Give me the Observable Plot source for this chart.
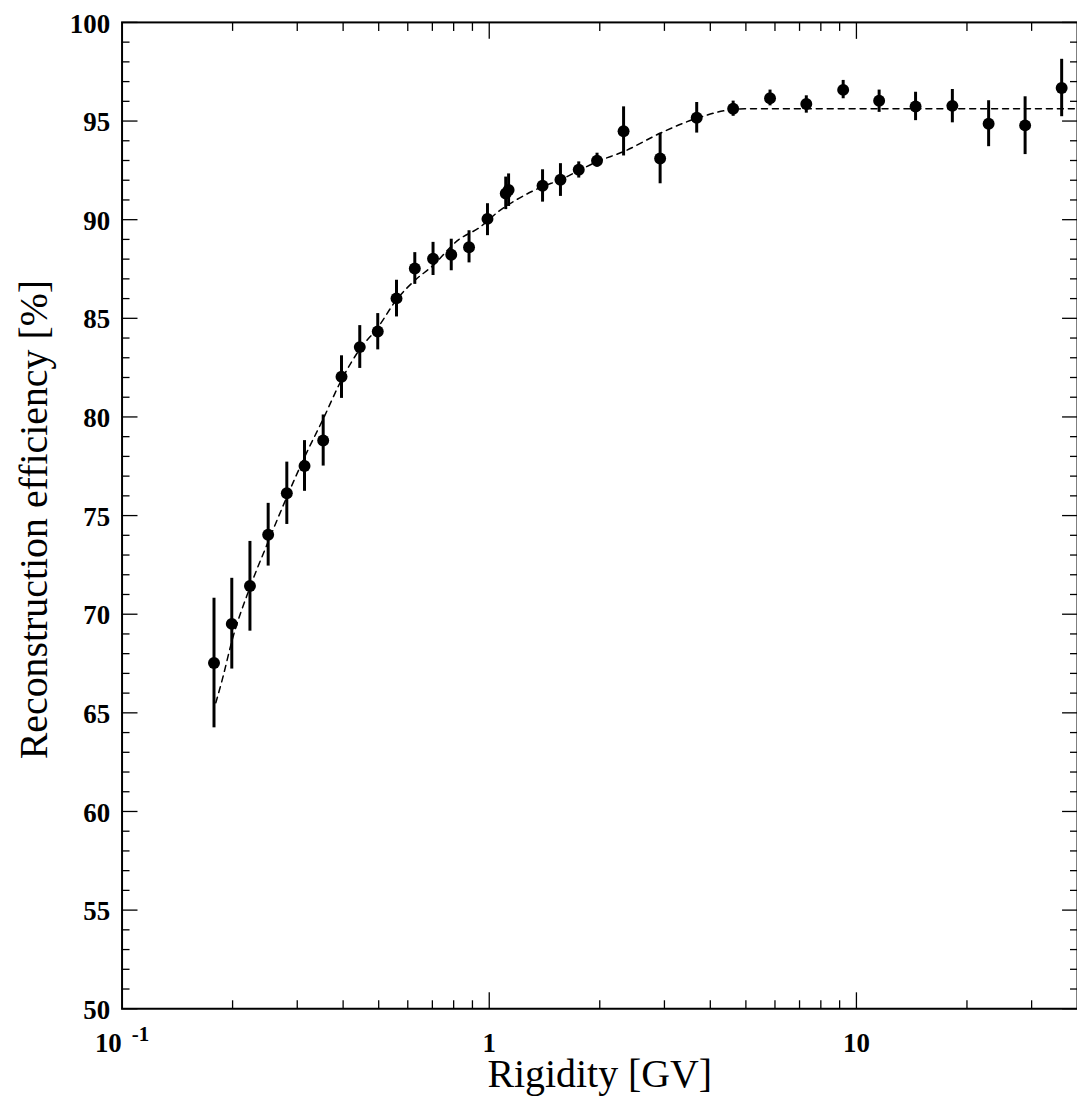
<!DOCTYPE html>
<html><head><meta charset="utf-8">
<script src="https://cdn.jsdelivr.net/npm/d3@7"></script>
<script src="https://cdn.jsdelivr.net/npm/@observablehq/plot@0.6"></script>
<style>
html,body{margin:0;padding:0;background:#fff;overflow:hidden}
#wrap{width:1077px;height:1099px;overflow:hidden;position:relative}
</style></head><body><div id="wrap"></div>
<script>
// Data points: rigidity [GV], efficiency [%], error bar bounds
const rigidity = [0.178,0.199,0.223,0.250,0.281,0.314,0.353,0.396,0.444,0.497,0.559,0.627,0.703,0.788,0.881,0.989,1.109,1.129,1.397,1.563,1.753,1.966,2.322,2.920,3.673,4.616,5.817,7.303,9.203,11.53,14.49,18.25,22.91,28.80,36.22];
const efficiency = [67.53,69.51,71.43,74.03,76.13,77.51,78.81,82.04,83.54,84.33,86.01,87.53,88.02,88.22,88.60,90.04,91.33,91.50,91.72,92.02,92.53,92.99,94.48,93.10,95.17,95.62,96.16,95.86,96.58,96.03,95.74,95.77,94.86,94.78,96.68];
const errHigh = [70.81,71.82,73.69,75.62,77.71,78.80,80.10,83.10,84.63,85.24,86.93,88.33,88.85,89.01,89.44,90.81,92.16,92.32,92.53,92.84,92.93,93.37,95.72,94.38,95.94,96.01,96.57,96.28,97.06,96.57,96.46,96.60,96.03,96.23,98.13];
const errLow = [64.24,67.22,69.14,72.44,74.55,76.23,77.51,80.94,82.46,83.40,85.07,86.72,87.17,87.41,87.81,89.19,90.51,90.67,90.89,91.18,92.11,92.66,93.23,91.82,94.39,95.24,95.77,95.40,96.13,95.44,95.02,94.91,93.70,93.30,95.22];

// Fit curve (dashed)
const fitRigidity = [0.180,0.188,0.199,0.223,0.250,0.281,0.314,0.353,0.396,0.444,0.497,0.559,0.627,0.699,0.826,0.937,1.061,1.254,1.397,1.563,1.753,1.966,2.322,2.920,3.673,4.616,4.96,40];
const fitEfficiency = [65.51,66.77,68.62,71.36,73.67,75.94,77.96,79.90,81.88,83.43,84.53,85.94,86.92,87.64,88.99,89.58,90.42,91.26,91.68,92.02,92.49,92.94,93.45,94.38,95.14,95.59,95.62,95.62];

// Ticks
const xLabelTicks = [0.1, 1, 10];
const xMajorTicks = [1, 10];
const xMinorTicks = [0.2,0.3,0.4,0.5,0.6,0.7,0.8,0.9,2,3,4,5,6,7,8,9,20,30];
const yMajorTicks = [50,55,60,65,70,75,80,85,90,95,100];
const yMinorTicks = d3.range(50, 101, 1).filter(v => v % 5 !== 0);

const xTitle = "Rigidity [GV]";
const yTitle = "Reconstruction efficiency [%]";

const points = rigidity.map((r, i) => ({r, e: efficiency[i], lo: errLow[i], hi: errHigh[i]}));
const fit = fitRigidity.map((r, i) => ({r, e: fitEfficiency[i]}));

const serif = "'Liberation Serif', 'Times New Roman', Times, serif";
const tk = {stroke: "#000", strokeWidth: 1.3, tickFormat: () => "", label: null};

const chart = Plot.plot({
  width: 1081, height: 1099,
  marginLeft: 122, marginRight: 0, marginTop: 22, marginBottom: 87,
  style: {fontFamily: serif, background: "#fff", color: "#000", overflow: "visible"},
  x: {type: "log", domain: [0.1, 40]},
  y: {domain: [50, 100]},
  marks: [
    // inward ticks on all four sides
    Plot.axisX(xMinorTicks, {...tk, anchor: "bottom", tickSize: -8}),
    Plot.axisX(xMajorTicks, {...tk, anchor: "bottom", tickSize: -16}),
    Plot.axisX(xMinorTicks, {...tk, anchor: "top", tickSize: -8}),
    Plot.axisX(xMajorTicks, {...tk, anchor: "top", tickSize: -16}),
    Plot.axisY(yMinorTicks, {...tk, anchor: "left", tickSize: -8}),
    Plot.axisY(yMajorTicks, {...tk, anchor: "left", tickSize: -16}),
    Plot.axisY(yMinorTicks, {...tk, anchor: "right", tickSize: -8}),
    Plot.axisY(yMajorTicks, {...tk, anchor: "right", tickSize: -16}),
    // tick labels
    Plot.axisY(yMajorTicks, {anchor: "left", tickSize: 0, tickPadding: 12, fontSize: 27, fontWeight: "bold", label: null, dy: 1.5}),
    Plot.axisX(xLabelTicks, {anchor: "bottom", tickSize: 0, tickPadding: 24, fontSize: 27, fontWeight: "bold", label: null,
      tickFormat: d => d === 0.1 ? "10" : String(d)}),
    // axis titles
    Plot.text([xTitle], {text: d => d, frameAnchor: "bottom", dy: 79, fontSize: 40, lineAnchor: "bottom", textAnchor: "middle"}),
    Plot.text([yTitle], {text: d => d, frameAnchor: "left", dx: -75, dy: 4, rotate: -90, fontSize: 40, lineAnchor: "bottom", textAnchor: "middle"}),
    // fit
    Plot.line(fit, {x: "r", y: "e", stroke: "#000", strokeWidth: 1.5, strokeDasharray: "6,5", curve: "monotone-x"}),
    // error bars & points
    Plot.ruleX(points, {x: "r", y1: "lo", y2: "hi", stroke: "#000", strokeWidth: 3}),
    Plot.dot(points, {x: "r", y: "e", r: 6, fill: "#000", stroke: "none"}),
    Plot.frame({stroke: "#000", strokeWidth: 2})
  ]
});

document.getElementById("wrap").appendChild(chart);

// superscript exponent on the 10^-1 label (leftmost "10" tick label)
const tens = Array.from(chart.querySelectorAll("text")).filter(t => t.textContent.trim() === "10");
if (tens.length) {
  tens.sort((a, b) => a.getBoundingClientRect().x - b.getBoundingClientRect().x);
  d3.select(tens[0]).append("tspan").attr("dx", 10).attr("dy", "-0.5em").attr("font-size", 21).text("-1");
}
</script>
</body></html>
